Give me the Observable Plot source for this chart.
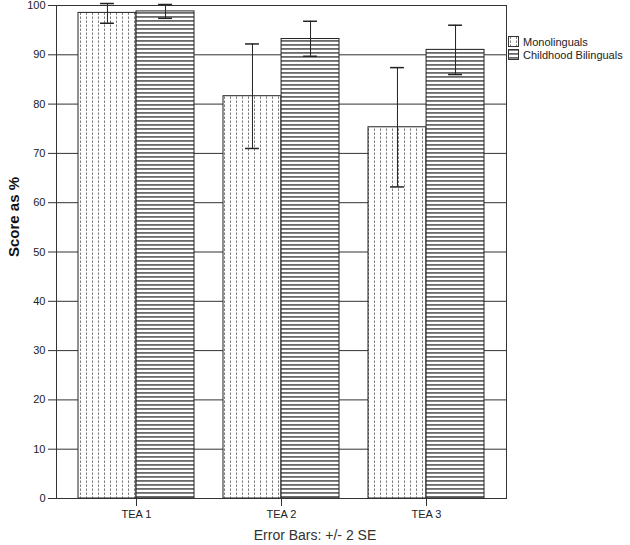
<!DOCTYPE html>
<html>
<head>
<meta charset="utf-8">
<script src="https://cdn.jsdelivr.net/npm/d3@7"></script>
<script src="https://cdn.jsdelivr.net/npm/@observablehq/plot@0.6"></script>
<style>
  body { margin: 0; background: #fff; font-family: "Liberation Sans", Arial, sans-serif; }
  #wrap { position: relative; width: 630px; height: 545px; }
  #legend { position: absolute; left: 508px; top: 35px; font-size: 11px; color: #222; }
  .item { display: flex; align-items: center; height: 13px; }
  .item svg { margin-right: 3px; }
  #caption { position: absolute; left: 0; top: 524px; width: 630px; text-align: center; font-size: 14px; line-height: 23px; color: #333; }
</style>
</head>
<body>
<div id="wrap">
  <div id="chart"></div>
  <div id="legend"></div>
  <div id="caption">Error Bars: +/- 2 SE</div>
</div>
<script>
const categories = ["TEA 1", "TEA 2", "TEA 3"];
const groups = ["Monolinguals", "Childhood Bilinguals"];
const monoMean = [98.5, 81.6, 75.3];
const monoLow  = [96.4, 71.0, 63.2];
const monoHigh = [100.4, 92.2, 87.4];
const biliMean = [98.8, 93.2, 91.0];
const biliLow  = [97.4, 89.7, 86.0];
const biliHigh = [100.2, 96.8, 96.0];
const yTicks = [0, 10, 20, 30, 40, 50, 60, 70, 80, 90, 100];
const yLabel = "Score as %";

const W = 630, H = 522, mL = 56, mR = 124, mT = 5, mB = 24;
const pIn = 0.2, pOut = 0.15;

const mono = categories.map((c, i) => ({cat: c, mean: monoMean[i], lo: monoLow[i], hi: monoHigh[i]}));
const bili = categories.map((c, i) => ({cat: c, mean: biliMean[i], lo: biliLow[i], hi: biliHigh[i]}));

const bw = d3.scaleBand().domain(categories).range([mL, W - mR]).paddingInner(pIn).paddingOuter(pOut).bandwidth();
const cap = 7;

const plot = Plot.plot({
  width: W, height: H,
  marginLeft: mL, marginRight: mR, marginTop: mT, marginBottom: mB,
  style: {fontFamily: "Liberation Sans, Arial, sans-serif", fontSize: "11px", color: "#222", background: "#fff"},
  x: {type: "band", domain: categories, paddingInner: pIn, paddingOuter: pOut},
  y: {domain: [0, 100]},
  marks: [
    Plot.ruleY(yTicks, {stroke: "#333", strokeWidth: 1}),
    Plot.barY(mono, {x: "cat", y: "mean", fill: "url(#dots)", stroke: "#222", strokeWidth: 1, insetRight: bw / 2}),
    Plot.barY(bili, {x: "cat", y: "mean", fill: "url(#stripes)", stroke: "#222", strokeWidth: 1, insetLeft: bw / 2}),
    Plot.ruleX(mono, {x: "cat", y1: "lo", y2: "hi", dx: -bw / 4, stroke: "#222"}),
    Plot.ruleX(bili, {x: "cat", y1: "lo", y2: "hi", dx: bw / 4, stroke: "#222"}),
    Plot.tickY(mono, {x: "cat", y: "hi", insetLeft: bw / 4 - cap, insetRight: 3 * bw / 4 - cap, stroke: "#222", strokeWidth: 1.5}),
    Plot.tickY(mono, {x: "cat", y: "lo", insetLeft: bw / 4 - cap, insetRight: 3 * bw / 4 - cap, stroke: "#222", strokeWidth: 1.5}),
    Plot.tickY(bili, {x: "cat", y: "hi", insetLeft: 3 * bw / 4 - cap, insetRight: bw / 4 - cap, stroke: "#222", strokeWidth: 1.5}),
    Plot.tickY(bili, {x: "cat", y: "lo", insetLeft: 3 * bw / 4 - cap, insetRight: bw / 4 - cap, stroke: "#222", strokeWidth: 1.5}),
    Plot.frame({stroke: "#333"}),
    Plot.axisY({ticks: yTicks, tickSize: 8, tickPadding: 3, label: null, stroke: "#333"}),
    Plot.axisX({tickSize: 8, tickPadding: 4, label: null, stroke: "#333"}),
    Plot.text([yLabel], {frameAnchor: "left", dx: -42, dy: 5, rotate: -90, fontWeight: "bold", fontSize: 15, fill: "#111"})
  ]
});

const svgSel = d3.select(plot);
const defs = svgSel.insert("defs", ":first-child");
const dots = defs.append("pattern").attr("id", "dots").attr("patternUnits", "userSpaceOnUse").attr("width", 6).attr("height", 4);
dots.append("rect").attr("width", 6).attr("height", 4).attr("fill", "#fff");
dots.append("rect").attr("x", 2).attr("y", 0.5).attr("width", 1).attr("height", 2.4).attr("fill", "#7a7a7a");
const stripes = defs.append("pattern").attr("id", "stripes").attr("patternUnits", "userSpaceOnUse").attr("width", 4).attr("height", 4);
stripes.append("rect").attr("width", 4).attr("height", 4).attr("fill", "#fff");
stripes.append("rect").attr("y", 0).attr("width", 4).attr("height", 1.8).attr("fill", "#6a6a6a");

document.getElementById("chart").appendChild(plot);

const legend = document.getElementById("legend");
const fills = ["url(#dots)", "url(#stripes)"];
groups.forEach((g, i) => {
  const row = document.createElement("div");
  row.className = "item";
  const sw = d3.create("svg").attr("width", 12).attr("height", 12);
  sw.append("rect").attr("x", 0.5).attr("y", 0.5).attr("width", 10).attr("height", 10).attr("fill", fills[i]).attr("stroke", "#333");
  row.appendChild(sw.node());
  const t = document.createElement("span");
  t.textContent = g;
  row.appendChild(t);
  legend.appendChild(row);
});
</script>
</body>
</html>
